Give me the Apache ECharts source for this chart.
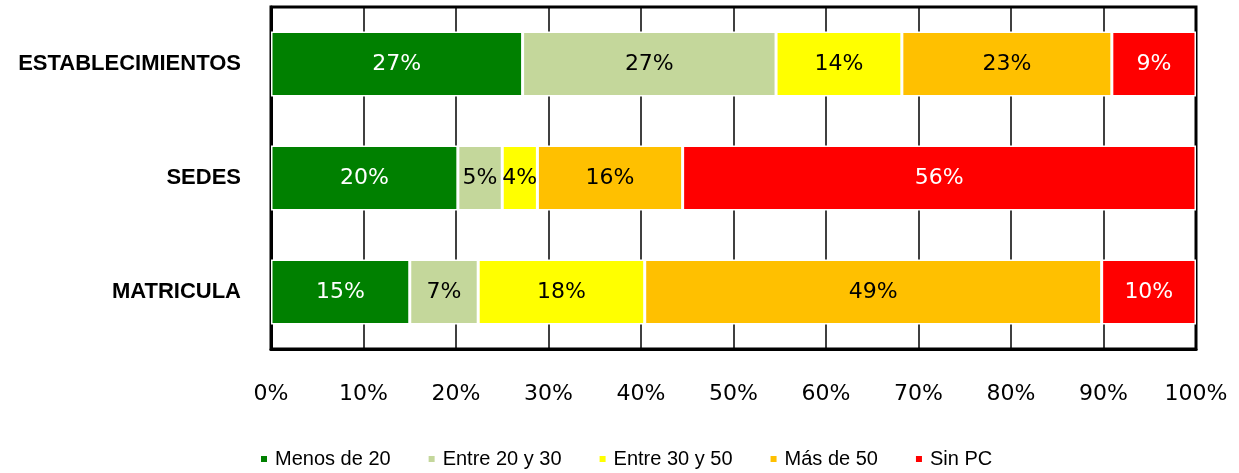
<!DOCTYPE html>
<html>
<head>
<meta charset="utf-8">
<script src="https://cdn.jsdelivr.net/npm/echarts@6/dist/echarts.min.js"></script>
<style>
  html, body { margin: 0; padding: 0; background: #fff; }
  #chart { width: 1239px; height: 473px; }
</style>
</head>
<body>
<div id="chart"></div>
<script>
  var categorias = ['MATRICULA', 'SEDES', 'ESTABLECIMIENTOS'];
  var menos20 = [15.0, 20.2, 27.2];     // Menos de 20
  var entre20y30 = [7.4, 4.8, 27.4];    // Entre 20 y 30
  var entre30y50 = [18.0, 3.8, 13.6];   // Entre 30 y 50
  var masDe50 = [49.4, 15.7, 22.7];     // Más de 50
  var sinPC = [10.2, 55.5, 9.1];        // Sin PC
  var ticks = [0, 10, 20, 30, 40, 50, 60, 70, 80, 90, 100];

  var series = [
    { name: 'Menos de 20', data: menos20, color: '#008000', text: '#fff' },
    { name: 'Entre 20 y 30', data: entre20y30, color: '#c4d79b', text: '#000' },
    { name: 'Entre 30 y 50', data: entre30y50, color: '#ffff00', text: '#000' },
    { name: 'Más de 50', data: masDe50, color: '#ffc000', text: '#000' },
    { name: 'Sin PC', data: sinPC, color: '#ff0000', text: '#fff' }
  ];

  var myChart = echarts.init(document.getElementById('chart'));

  var option = {
    backgroundColor: '#fff',
    animation: false,
    grid: {
      left: 271,
      right: 43,
      top: 7,
      bottom: 124,
      show: true,
      borderColor: '#000',
      borderWidth: 3
    },
    legend: {
      top: 444,
      left: 254,
      itemWidth: 8,
      itemHeight: 8,
      itemGap: 36,
      icon: 'rect',
      textStyle: {
        fontFamily: 'Liberation Sans',
        fontSize: 20,
        color: '#000',
        padding: [0, 0, 0, 2]
      },
      data: series.map(function (s) { return s.name; })
    },
    xAxis: {
      type: 'value',
      min: 0,
      max: 100,
      interval: 10,
      axisLine: { show: true, lineStyle: { color: '#000', width: 3 } },
      axisTick: { show: false },
      splitLine: { show: true, lineStyle: { color: '#000', width: 1.5 } },
      axisLabel: {
        margin: 34,
        color: '#000',
        fontFamily: 'DejaVu Sans',
        fontSize: 22,
        formatter: function (v) {
          return ticks.indexOf(v) >= 0 ? v + '%' : '';
        }
      }
    },
    yAxis: {
      type: 'category',
      data: categorias,
      axisLine: { show: true, lineStyle: { color: '#000', width: 3 } },
      axisTick: { show: false },
      axisLabel: {
        margin: 30,
        color: '#000',
        fontFamily: 'Liberation Sans',
        fontWeight: 'bold',
        fontSize: 22,
        padding: [4, 0, 0, 0]
      }
    },
    series: series.map(function (s) {
      return {
        name: s.name,
        type: 'bar',
        stack: 'total',
        barWidth: '57%',
        itemStyle: { color: s.color, borderColor: '#fff', borderWidth: 1.5 },
        label: {
          show: true,
          position: 'inside',
          color: s.text,
          fontFamily: 'DejaVu Sans',
          fontSize: 22,
          formatter: function (p) { return Math.round(p.value) + '%'; }
        },
        data: s.data
      };
    })
  };

  option && myChart.setOption(option);
</script>
</body>
</html>
